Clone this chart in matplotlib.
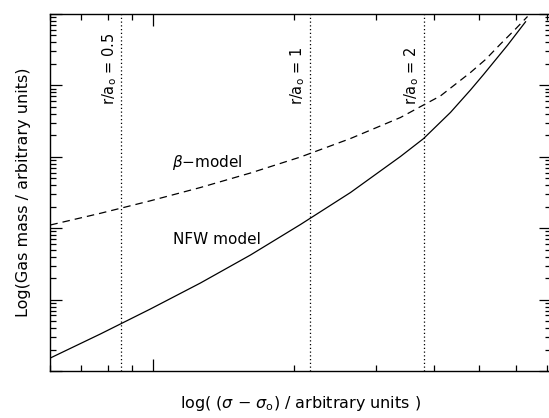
import matplotlib
matplotlib.use("Agg")
import matplotlib.pyplot as plt
from matplotlib.ticker import LogLocator, NullFormatter

# NFW gas mass profile (solid)
nfw_x = [0.601, 0.7695, 0.9853, 1.2615, 1.6152, 2.0679, 2.6474, 3.3884, 3.797,
         4.338, 4.788, 5.108, 5.750, 6.285]
nfw_y = [1.521, 3.298, 7.386, 17.08, 42.13, 112.7, 316.2, 1010, 1798,
         4185, 8622, 14215, 36560, 77790]

# beta-model gas mass profile (dashed)
beta_x = [0.601, 0.7695, 0.9853, 1.2615, 1.6152, 2.0679, 2.6474, 3.3884, 3.797,
          4.129, 4.788, 5.158, 5.554, 5.981, 6.347]
beta_y = [110.9, 161.7, 242.0, 371.5, 593.1, 993.6, 1804, 3552, 5316,
          7129, 15160, 23050, 37990, 61650, 92260]

# radii marked with vertical dotted lines
radii_x = [0.854, 2.162, 3.797]
radii_labels = ["r/a$_{\\rm o}$ = 0.5", "r/a$_{\\rm o}$ = 1", "r/a$_{\\rm o}$ = 2"]

fig = plt.figure(figsize=(5.49, 4.18), dpi=100)
ax = fig.add_axes([50/549, 47/418, 500.8/549, 357/418])

ax.plot(nfw_x, nfw_y, color="black", lw=0.9)
ax.plot(beta_x, beta_y, color="black", lw=0.9, dashes=(6, 4))

for xv, lab in zip(radii_x, radii_labels):
    ax.axvline(xv, color="black", lw=0.9, linestyle=(0, (1, 2)))
    ax.annotate(lab, xy=(xv, 0.745), xycoords=("data", "axes fraction"),
                xytext=(-1.5, 0), textcoords="offset points",
                rotation=90, ha="right", va="bottom", fontsize=10.5)

ax.text(1.098, 819, "$\\beta$$-$model", fontsize=11, va="center")
ax.text(1.104, 68.4, "NFW model", fontsize=11, va="center")

ax.set_xscale("log")
ax.set_yscale("log")
ax.set_xlim(0.6, 7.12)
ax.set_ylim(1, 1e5)

for axis in (ax.xaxis, ax.yaxis):
    axis.set_major_locator(LogLocator(base=10))
    axis.set_minor_locator(LogLocator(base=10, subs=range(2, 10)))
    axis.set_major_formatter(NullFormatter())
    axis.set_minor_formatter(NullFormatter())

ax.tick_params(which="both", direction="in", top=True, right=True, width=0.9)
ax.tick_params(which="major", length=8.5)
ax.tick_params(which="minor", length=4.3)
for s in ax.spines.values():
    s.set_linewidth(1.0)

ax.set_xlabel("log( ($\\sigma$ $-$ $\\sigma_{\\rm o}$) / arbitrary units )",
              fontsize=11.5, labelpad=13)
ax.set_ylabel("Log(Gas mass / arbitrary units)", fontsize=11.5, labelpad=10)

fig.savefig("out.png", dpi=100)
